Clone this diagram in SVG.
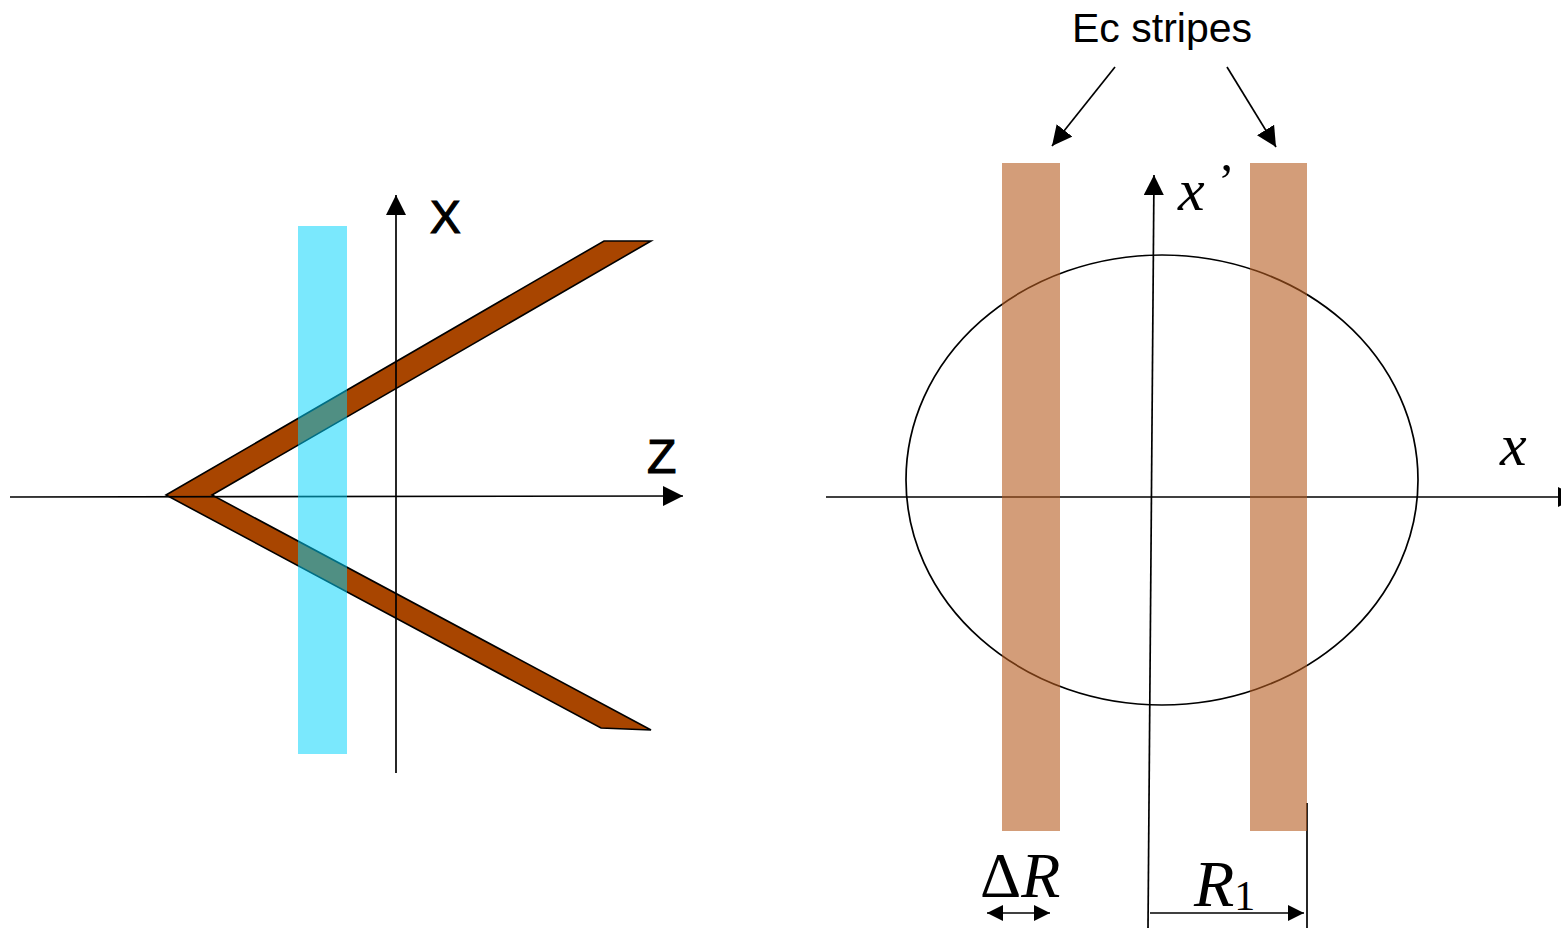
<svg xmlns="http://www.w3.org/2000/svg" width="1561" height="930" viewBox="0 0 1561 930">
<style>
.ax{stroke:#000;stroke-width:1.7;fill:none}
.lbl{font-family:"Liberation Sans",Arial,sans-serif;fill:#000}
.big{stroke:#000;stroke-width:1.2}
.math{font-family:"Liberation Serif","Times New Roman",serif;fill:#000}
.stripe{fill:#b65c20;fill-opacity:0.6}
</style>
<defs>
<marker id="ah" viewBox="0 0 20 20" refX="20" refY="10" markerWidth="20" markerHeight="20" markerUnits="userSpaceOnUse" orient="auto-start-reverse">
<path d="M0,0 L20,10 L0,20 Z" fill="#000"/>
</marker>
<marker id="ahs" viewBox="0 0 16 16" refX="16" refY="8" markerWidth="16" markerHeight="16" markerUnits="userSpaceOnUse" orient="auto-start-reverse">
<path d="M0,0 L16,8 L0,16 Z" fill="#000"/>
</marker>
</defs>

<g id="left-chevron">
<polygon points="166,495 604,241 651,241 212,495 651,730 601,728" fill="#a84500" stroke="#000" stroke-width="1.6" stroke-linejoin="miter"/>
</g>
<g id="connectors">
<line class="ax" x1="10" y1="497" x2="683" y2="496" marker-end="url(#ah)"/>
<line class="ax" x1="396" y1="773" x2="396" y2="195" marker-end="url(#ah)"/>
<line class="ax" x1="826" y1="497" x2="1578" y2="497" marker-end="url(#ah)"/>
<line class="ax" x1="1148" y1="928" x2="1154" y2="175" marker-end="url(#ah)"/>
<line class="ax" x1="1115" y1="67" x2="1052" y2="146" marker-end="url(#ah)"/>
<line class="ax" x1="1227" y1="67" x2="1276" y2="147" marker-end="url(#ah)"/>
<line class="ax" x1="1307" y1="803" x2="1307" y2="928"/>
<line class="ax" x1="1150" y1="913" x2="1304" y2="913" marker-end="url(#ahs)"/>
<line class="ax" x1="987" y1="913" x2="1050" y2="913" marker-start="url(#ahs)" marker-end="url(#ahs)"/>
</g>
<g id="cyan-band">
<rect x="298" y="226" width="49" height="528" fill="#00d2fb" fill-opacity="0.52"/>
</g>
<g id="label-X"><text class="lbl big" x="430" y="233" font-size="46">X</text></g>
<g id="label-Z"><text class="lbl big" x="647" y="473" font-size="48">Z</text></g>

<g id="ellipse">
<ellipse cx="1162" cy="480" rx="256" ry="225" class="ax"/>
</g>
<g id="stripe-left"><rect class="stripe" x="1002" y="163" width="58" height="668"/></g>
<g id="stripe-right"><rect class="stripe" x="1250" y="163" width="57" height="668"/></g>
<g id="label-ec"><text class="lbl" x="1162" y="42" font-size="41" text-anchor="middle">Ec stripes</text></g>
<g id="label-xprime"><text class="math" x="1178" y="210" font-size="60" font-style="italic">x<tspan x="1218" y="198" font-size="50" font-style="normal">’</tspan></text></g>
<g id="label-x"><text class="math" x="1500" y="465" font-size="60" font-style="italic">x</text></g>
<g id="label-dR"><text class="math" x="980" y="897" font-size="64">Δ<tspan font-style="italic">R</tspan></text></g>
<g id="label-R1"><text class="math" x="1194" y="906" font-size="66" font-style="italic">R<tspan font-style="normal" font-size="42" dy="4">1</tspan></text></g>
</svg>
